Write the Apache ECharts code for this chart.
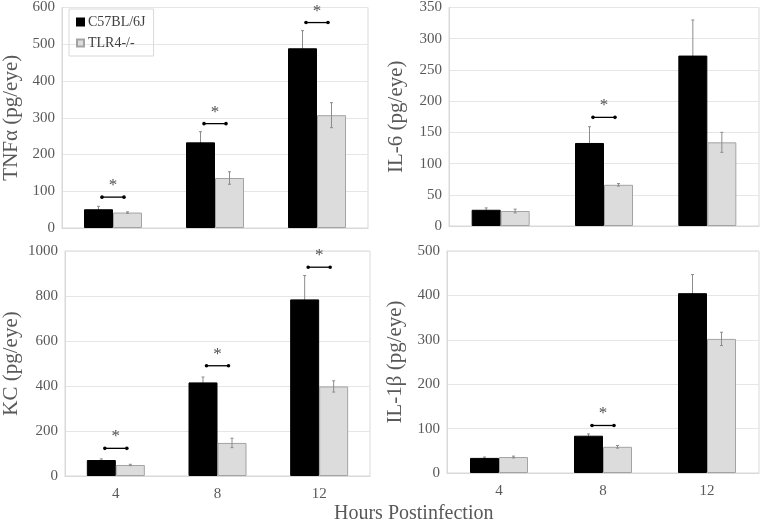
<!DOCTYPE html>
<html><head><meta charset="utf-8">
<script src="https://cdn.jsdelivr.net/npm/echarts@6/dist/echarts.min.js"></script>
<style>html,body{margin:0;padding:0;background:#fff}#c{width:762px;height:521px}</style>
</head><body><div id="c"></div>
<script>
const categories = ['4', '8', '12'];
const seriesNames = ['C57BL/6J', 'TLR4-/-'];

const tnfB = [51, 233, 489];   const tnfBErr = [8, 29, 48];
const tnfT = [42, 136, 307];   const tnfTErr = [2, 17, 34];
const tnfSig = [84, 284, 559];

const il6B = [26, 133, 273];   const il6BErr = [3, 26, 57];
const il6T = [24, 66, 134];    const il6TErr = [3, 2, 16];
const il6Sig = [null, 174, null];

const kcB = [71, 416, 785];    const kcBErr = [5, 24, 106];
const kcT = [49, 147, 398];    const kcTErr = [3, 21, 25];
const kcSig = [123, 490, 928];

const il1B = [34, 84, 405];    const il1BErr = [2, 4, 42];
const il1T = [36, 59, 302];    const il1TErr = [2, 3, 15];
const il1Sig = [null, 107, null];

const yMax = [600, 350, 1000, 500];
const yInterval = [100, 50, 200, 100];
const yNames = ['TNF\u03b1 (pg/eye)', 'IL-6 (pg/eye)', 'KC (pg/eye)', 'IL-1\u03b2 (pg/eye)'];

const panels = [
  {b: tnfB, be: tnfBErr, t: tnfT, te: tnfTErr, sig: tnfSig},
  {b: il6B, be: il6BErr, t: il6T, te: il6TErr, sig: il6Sig},
  {b: kcB, be: kcBErr, t: kcT, te: kcTErr, sig: kcSig},
  {b: il1B, be: il1BErr, t: il1T, te: il1TErr, sig: il1Sig}
];

const FONT = '"Liberation Serif", "Times New Roman", serif';
const grids = [
  {left: 61, top: 4, width: 307, height: 224},
  {left: 449, top: 5, width: 310, height: 221},
  {left: 63, top: 251, width: 307, height: 225},
  {left: 447, top: 251, width: 312, height: 222}
];
const nameGaps = [40, 42, 43, 41];
const BW = 29;

const chart = echarts.init(document.getElementById('c'));

function errRender(offset, color) {
  return function (params, api) {
    const idx = api.value(0), v = api.value(1), e = api.value(2);
    const top = api.coord([idx, v + e]);
    const bot = api.coord([idx, v - e]);
    const x = top[0] + offset;
    const st = {stroke: color, lineWidth: 1};
    return {type: 'group', children: [
      {type: 'line', shape: {x1: x, y1: top[1], x2: x, y2: bot[1]}, style: st},
      {type: 'line', shape: {x1: x - 1.5, y1: top[1], x2: x + 1.5, y2: top[1]}, style: st},
      {type: 'line', shape: {x1: x - 1.5, y1: bot[1], x2: x + 1.5, y2: bot[1]}, style: st}
    ]};
  };
}
function sigRender(params, api) {
  const idx = api.value(0), v = api.value(1);
  const p = api.coord([idx, v]);
  const x1 = p[0] - 11, x2 = p[0] + 11, y = p[1];
  return {type: 'group', children: [
    {type: 'line', shape: {x1: x1, y1: y, x2: x2, y2: y}, style: {stroke: '#000', lineWidth: 1.3}},
    {type: 'circle', shape: {cx: x1, cy: y, r: 1.8}, style: {fill: '#000'}},
    {type: 'circle', shape: {cx: x2, cy: y, r: 1.8}, style: {fill: '#000'}},
    {type: 'text', x: p[0], y: y - 3, style: {text: '*', fill: '#505050', font: '17px ' + FONT, textAlign: 'center', textVerticalAlign: 'bottom'}}
  ]};
}

const option = {
  animation: false,
  backgroundColor: '#fff',
  grid: grids.map(g => Object.assign({show: true, borderColor: '#d9d9d9', borderWidth: 1, containLabel: false}, g)),
  legend: {
    data: seriesNames.map(n => ({name: n})),
    orient: 'vertical', left: 69, top: 9,
    icon: 'rect', itemWidth: 7, itemHeight: 7, itemGap: 7,
    padding: [6, 8, 6, 7],
    borderColor: '#d9d9d9', borderWidth: 1,
    textStyle: {fontFamily: FONT, fontSize: 14, color: '#404040', padding: [0, 0, 0, -1]}
  },
  xAxis: grids.map((g, i) => ({
    type: 'category', gridIndex: i, data: categories,
    axisTick: {show: false},
    axisLine: {lineStyle: {color: '#d9d9d9'}},
    axisLabel: {show: i >= 2, fontFamily: FONT, fontSize: 15, color: '#595959', margin: 11}
  })),
  yAxis: grids.map((g, i) => ({
    type: 'value', gridIndex: i, min: 0, max: yMax[i], interval: yInterval[i],
    name: yNames[i], nameLocation: 'middle', nameGap: nameGaps[i],
    nameTextStyle: {fontFamily: FONT, fontSize: 21, color: '#595959'},
    axisLine: {show: true, lineStyle: {color: '#d9d9d9'}},
    axisTick: {show: false},
    splitLine: {lineStyle: {color: '#e6e6e6'}},
    axisLabel: {fontFamily: FONT, fontSize: 15, color: '#595959', margin: 7, formatter: v => String(v)}
  })),
  graphic: [{
    type: 'text', left: 334, top: 504,
    style: {text: 'Hours Postinfection', font: '20px ' + FONT, fill: '#595959'}
  }],
  series: []
};

panels.forEach((p, i) => {
  option.series.push({
    type: 'custom', name: 'errB' + i, xAxisIndex: i, yAxisIndex: i, z: 1,
    renderItem: errRender(-BW / 2, '#8c8c8c'),
    data: p.b.map((v, k) => [k, v, p.be[k]])
  });
  option.series.push({
    type: 'bar', name: seriesNames[0], xAxisIndex: i, yAxisIndex: i, z: 2,
    barWidth: BW, barGap: '0%',
    itemStyle: {color: '#000000', borderColor: '#000', borderWidth: 1},
    data: p.b
  });
  option.series.push({
    type: 'bar', name: seriesNames[1], xAxisIndex: i, yAxisIndex: i, z: 2,
    barWidth: BW, barGap: '0%',
    itemStyle: {color: '#dcdcdc', borderColor: '#a3a3a3', borderWidth: 1},
    data: p.t
  });
  option.series.push({
    type: 'custom', name: 'errT' + i, xAxisIndex: i, yAxisIndex: i, z: 3,
    renderItem: errRender(BW / 2, '#8c8c8c'),
    data: p.t.map((v, k) => [k, v, p.te[k]])
  });
  option.series.push({
    type: 'custom', name: 'sig' + i, xAxisIndex: i, yAxisIndex: i, z: 4,
    renderItem: sigRender,
    data: p.sig.map((v, k) => v == null ? null : [k, v]).filter(d => d)
  });
});

chart.setOption(option);
</script></body></html>
